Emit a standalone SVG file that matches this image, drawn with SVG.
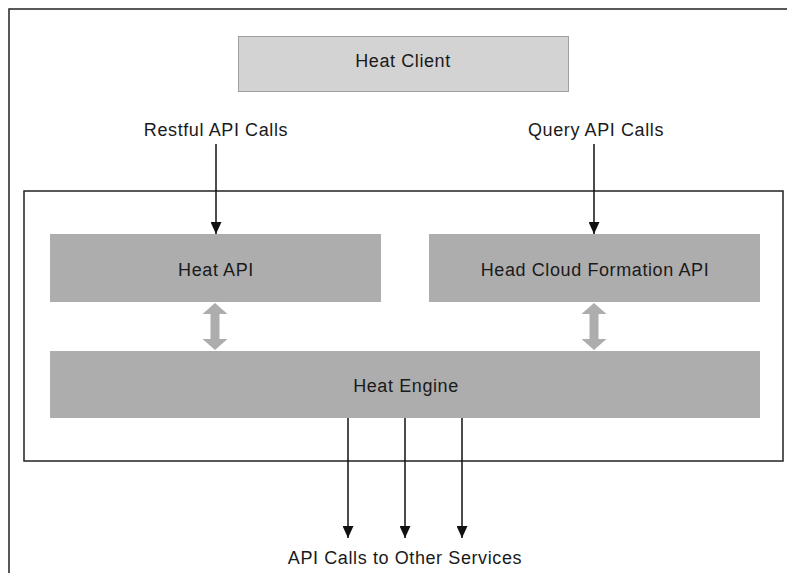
<svg xmlns="http://www.w3.org/2000/svg" width="787" height="573" viewBox="0 0 787 573">
  <defs>
    <style>
      .frame { fill: none; stroke: #222; stroke-width: 1.5; }
      .box { fill: #adadae; }
      .client { fill: #d3d3d3; stroke: #a0a0a0; stroke-width: 1; }
      .lbl { font-family: "Liberation Sans", Arial, sans-serif; font-size: 18px; fill: #1a1a1a; text-anchor: middle; letter-spacing: 0.6px; }
      .line { stroke: #111; stroke-width: 1.5; fill: none; marker-end: url(#ah); }
      .dbl { fill: #adadae; }
    </style>
    <marker id="ah" markerWidth="12" markerHeight="11" refX="12" refY="5.5" orient="auto" markerUnits="userSpaceOnUse">
      <path d="M0,0 L12,5.5 L0,11 Z" fill="#111"/>
    </marker>
  </defs>
  <rect width="787" height="573" fill="#fff"/>
  <path class="frame" d="M787,9 H9 V573"/>
  <rect class="frame" x="24" y="191" width="759" height="270"/>

  <g id="heat-client">
    <rect class="client" x="238.5" y="36.5" width="330" height="55"/>
    <text class="lbl" x="403" y="67">Heat Client</text>
  </g>
  <g id="restful-label">
    <text class="lbl" x="216" y="136">Restful API Calls</text>
  </g>
  <g id="query-label">
    <text class="lbl" x="596" y="136">Query API Calls</text>
  </g>
  <g id="heat-api">
    <rect class="box" x="50" y="234" width="331" height="68"/>
    <text class="lbl" x="216" y="276">Heat API</text>
  </g>
  <g id="cfn-api">
    <rect class="box" x="429" y="234" width="331" height="68"/>
    <text class="lbl" x="595" y="276">Head Cloud Formation API</text>
  </g>
  <g id="heat-engine">
    <rect class="box" x="50" y="351" width="710" height="67"/>
    <text class="lbl" x="406" y="392">Heat Engine</text>
  </g>
  <g id="other-services">
    <text class="lbl" x="405" y="564">API Calls to Other Services</text>
  </g>

  <g id="connectors">
    <line class="line" x1="216" y1="144" x2="216" y2="234"/>
    <line class="line" x1="594" y1="144" x2="594" y2="234"/>
    <line class="line" x1="348" y1="418" x2="348" y2="538"/>
    <line class="line" x1="405" y1="418" x2="405" y2="538"/>
    <line class="line" x1="462" y1="418" x2="462" y2="538"/>
    <path class="dbl" d="M215,303 L227.5,314 L219.5,314 L219.5,339 L227.5,339 L215,350 L202.5,339 L210.5,339 L210.5,314 L202.5,314 Z"/>
    <path class="dbl" d="M594,303 L606.5,314 L598.5,314 L598.5,339 L606.5,339 L594,350 L581.5,339 L589.5,339 L589.5,314 L581.5,314 Z"/>
  </g>
</svg>
